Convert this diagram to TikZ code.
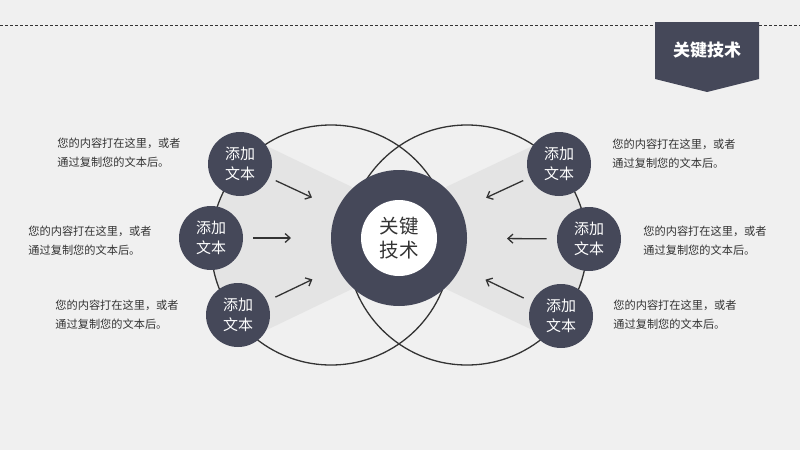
\documentclass[tikz,border=0pt]{standalone}
\usepackage{fontspec}
\setmainfont{Noto Sans CJK SC}
\usetikzlibrary{arrows.meta}
\definecolor{slate}{RGB}{69,72,89}
\definecolor{paper}{RGB}{240,240,240}
\definecolor{fan}{RGB}{228,228,228}
\definecolor{ink}{RGB}{51,51,51}
\begin{document}
\begin{tikzpicture}[x=1pt, y=-1pt, thick,
    dot/.style = {circle, fill=slate, minimum size=64pt, inner sep=0pt, text=white,
                  align=center, font=\fontsize{15}{20}\selectfont},
    note/.style = {anchor=west, align=left, text=ink, inner sep=0pt,
                   font=\fontsize{11.2}{19}\selectfont},
    ring/.style = {draw=ink, line width=1.3pt},
    arr/.style = {draw=ink, line width=1.3pt, -{Straight Barb[length=5pt,width=9pt]}}]
            \useasboundingbox (0,0) rectangle (800,450);
            \fill[paper] (0,0) rectangle (800,450);

            % dashed header line and badge
            \draw[ink, line width=0.8pt, dash pattern=on 3pt off 2pt] (0,25) -- (655,25);
            \draw[ink, line width=0.8pt, dash pattern=on 3pt off 2pt] (759,25) -- (800,25);
            \fill[slate] (655,22) -- (759,22) -- (759,79) -- (707,92) -- (655,79) -- cycle;
            \node[text=white, font=\fontsize{17}{20}\selectfont\bfseries] (title) at (707,50) {关键技术};

            % light fans inside the rings
            \begin{scope}
                \clip (331,245) circle (120);
                \fill[fan] (200,114) -- (352,187) -- (352,289) -- (200,362) -- cycle;
            \end{scope}
            \begin{scope}
                \clip (467,245) circle (120);
                \fill[fan] (600,114) -- (446,187) -- (446,289) -- (600,362) -- cycle;
            \end{scope}

            % big rings
            \draw[ring] (331,245) circle (120);
            \draw[ring] (467,245) circle (120);

            % centre
            \fill[slate] (399,238) circle (68);
            \node[circle, fill=white, minimum size=76pt, inner sep=0pt, align=center,
                  text=ink, font=\fontsize{19.5}{24}\selectfont] (c) at (399,238) {关键\\技术};
            \coordinate (cc) at (399,238);

            % small circles
            \node[dot] (l1) at (240,164) {添加\\文本};
            \node[dot] (l2) at (211,238) {添加\\文本};
            \node[dot] (l3) at (238,315) {添加\\文本};
            \node[dot] (r1) at (559,164) {添加\\文本};
            \node[dot] (r2) at (589,239) {添加\\文本};
            \node[dot] (r3) at (561,316) {添加\\文本};

            \path[arr, shorten <=7pt, shorten >=96pt] (l1) -- (cc);
            \path[arr, shorten <=10pt, shorten >=108pt] (l2) -- (cc);
            \path[arr, shorten <=9pt, shorten >=96pt] (l3) -- (cc);
            \path[arr, shorten <=7pt, shorten >=96pt] (r1) -- (cc);
            \path[arr, shorten <=10pt, shorten >=108pt] (r2) -- (cc);
            \path[arr, shorten <=9pt, shorten >=96pt] (r3) -- (cc);

            % notes
            \node[note] (t1) at (57,153) {您的内容打在这里，或者\\通过复制您的文本后。};
            \node[note] (t2) at (28,241) {您的内容打在这里，或者\\通过复制您的文本后。};
            \node[note] (t3) at (55,315) {您的内容打在这里，或者\\通过复制您的文本后。};
            \node[note] (t4) at (612,154) {您的内容打在这里，或者\\通过复制您的文本后。};
            \node[note] (t5) at (643,241) {您的内容打在这里，或者\\通过复制您的文本后。};
            \node[note] (t6) at (613,315) {您的内容打在这里，或者\\通过复制您的文本后。};
        \end{tikzpicture}
\end{document}
